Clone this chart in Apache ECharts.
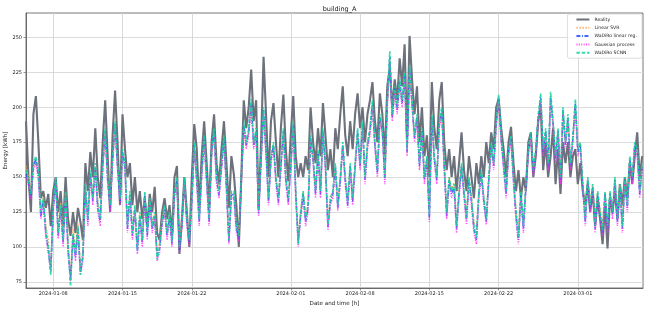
<!DOCTYPE html>
<html><head><meta charset="utf-8">
<script src="https://cdn.jsdelivr.net/npm/echarts@6/dist/echarts.min.js"></script>
<style>html,body{margin:0;padding:0;background:#fff}#c{width:648px;height:310px}</style>
</head><body><div id="c"></div>
<script>
// ---- data (hourly series sampled every 6 h, starting 2024-01-05 06:00) ----
const startTime = '2024-01-05T06:00:00Z';
const stepHours = 6;
const endTime = '2024-03-07T14:00:00Z';
const seriesNames = ['Reality','Linear SVR','WaDiRo linear reg.','Gaussian process','WaDiRo SCNN'];
const xTickDates = ['2024-01-08','2024-01-15','2024-01-22','2024-02-01','2024-02-08','2024-02-15','2024-02-22','2024-03-01'];
const yTicks = [75,100,125,150,175,200,225,250];

const reality = [
190,150,125,195,208,175,135,140,128,138,
115,140,150,125,140,115,150,120,108,125,
110,128,118,105,160,140,168,150,185,150,
135,175,205,165,125,180,212,175,130,195,
170,150,160,130,150,125,140,120,135,115,
138,125,143,110,105,125,135,120,130,108,
150,158,95,120,150,125,100,150,188,170,
128,165,190,160,128,175,195,160,145,170,
190,160,128,165,152,130,100,150,205,185,
200,227,190,205,127,175,236,195,150,190,
203,175,150,185,209,170,147,180,208,165,
150,160,150,165,155,200,175,160,185,165,
203,180,155,170,150,185,170,195,215,180,
165,190,170,195,210,185,200,175,195,205,
218,190,175,210,195,165,215,228,200,220,
205,235,215,245,178,251,220,195,215,175,
200,165,180,150,218,185,170,205,218,175,
155,170,150,165,140,160,182,155,140,165,
150,135,160,145,165,150,175,160,182,170,
200,206,185,170,150,175,186,160,140,155,
135,150,140,175,182,150,165,190,200,155,
175,150,165,185,145,170,138,175,160,175,
150,165,170,145,160,140,130,145,125,140,
115,135,120,102,130,99,135,125,140,120,
145,130,150,135,160,145,165,182,150,165];

const linearSVR = [
158,150,141,157,162,153,129,136,116,105,
86,128,147,114,132,109,138,105,80,113,
99,117,86,99,142,123,152,137,157,133,
124,157,181,152,133,162,186,158,138,167,
157,119,138,114,129,103,124,109,137,113,
133,118,124,97,104,119,128,113,123,108,
138,147,105,120,147,122,109,133,171,149,
124,152,176,149,124,166,181,149,141,158,
176,145,110,139,138,118,112,148,185,172,
181,201,173,182,130,162,195,168,138,163,
172,150,138,158,181,150,138,158,186,142,
108,127,139,123,131,176,163,141,167,142,
181,159,120,136,140,157,133,149,172,150,
135,158,137,158,181,159,186,152,172,182,
201,174,157,191,183,152,201,232,193,211,
198,216,203,220,172,226,202,180,193,162,
182,152,164,128,191,164,152,186,196,160,
129,150,141,146,119,141,158,141,125,149,
136,118,112,139,153,136,123,148,172,159,
187,205,178,160,142,167,178,151,128,112,
139,118,144,168,180,155,168,192,205,170,
182,160,205,188,165,183,152,196,175,192,
160,178,201,170,173,146,124,149,132,145,
119,139,127,116,139,118,139,127,148,123,
144,119,148,132,162,150,172,168,142,158];

const wadiroLinReg = [
152,146,136,158,163,151,122,133,110,98,
83,127,148,108,128,103,137,98,76,108,
93,113,82,93,143,118,153,133,158,128,
118,158,183,148,128,163,188,157,132,168,
158,113,137,108,127,97,122,103,138,108,
132,113,122,93,99,117,127,108,122,102,
138,148,98,116,148,118,103,132,173,148,
118,153,178,148,118,168,183,148,137,157,
178,142,104,137,138,113,106,148,188,173,
183,204,173,183,124,163,198,168,132,163,
173,148,132,158,183,148,132,158,188,138,
104,123,138,118,128,178,163,138,168,138,
183,158,114,132,138,158,128,148,173,148,
130,158,132,158,183,158,188,148,173,183,
203,173,153,193,183,148,203,236,193,213,
198,218,203,223,168,228,203,178,193,158,
183,148,163,120,193,163,148,188,198,158,
122,148,138,143,113,138,158,138,119,148,
133,113,105,138,153,133,118,148,173,158,
188,207,178,158,138,168,178,148,122,105,
138,113,143,168,181,153,168,193,207,168,
183,158,208,188,163,183,148,198,173,193,
158,178,203,168,173,143,118,148,128,143,
113,138,123,110,138,113,138,123,148,118,
143,113,148,128,163,148,173,168,138,158];

const gaussianProcess = [
150,144,134,155,160,148,120,130,107,96,
82,125,145,106,126,100,135,96,76,106,
90,110,80,90,140,115,150,130,155,125,
115,155,180,145,125,160,185,155,130,165,
155,110,135,105,125,95,120,100,135,105,
130,110,120,90,96,115,125,105,120,100,
135,145,96,113,145,115,100,130,170,145,
115,150,175,145,115,165,180,145,135,155,
175,140,102,135,135,110,104,145,185,170,
180,200,170,180,122,160,195,165,130,160,
170,145,130,155,180,145,130,155,185,135,
100,120,135,115,125,175,160,135,165,135,
180,155,112,130,135,155,126,145,170,145,
128,155,130,155,180,155,185,145,170,180,
200,170,150,190,180,145,200,234,190,210,
195,215,200,220,165,225,200,175,190,155,
180,145,160,118,190,160,145,185,195,155,
120,145,135,140,110,135,155,135,116,145,
130,110,102,135,150,130,116,145,170,155,
185,204,175,155,135,165,175,145,120,102,
135,110,140,165,178,150,165,190,204,165,
180,155,205,185,160,180,145,195,170,190,
155,175,200,165,170,140,115,145,125,140,
110,135,120,108,135,110,135,120,145,115,
140,110,145,125,160,145,170,165,135,155];

const wadiroSCNN = [
155,148,138,160,165,155,125,135,112,100,
80,130,150,110,130,105,140,100,72,110,
95,115,80,95,145,120,155,135,160,130,
120,160,185,150,130,165,190,160,135,170,
160,115,140,110,130,98,125,105,140,110,
135,115,125,91,100,120,130,110,125,104,
140,150,100,118,150,120,105,135,175,150,
120,155,180,150,120,170,185,150,140,160,
180,145,105,140,140,115,108,150,190,175,
185,206,175,185,126,165,200,170,135,165,
175,150,135,160,185,150,135,160,190,140,
102,125,140,120,130,180,165,140,170,140,
185,160,116,135,140,160,130,150,175,150,
132,160,135,160,185,160,190,150,175,185,
205,175,155,195,185,150,205,240,195,215,
200,220,205,225,170,230,205,180,195,160,
185,150,165,123,195,165,150,190,200,160,
125,150,140,145,115,140,160,140,121,150,
135,115,107,140,155,135,120,150,175,160,
190,209,180,160,140,170,180,150,125,107,
140,115,145,170,182,155,170,195,210,170,
185,160,211,190,165,185,150,200,175,195,
160,180,206,170,175,145,120,150,130,145,
115,140,125,112,140,115,140,125,150,120,
145,115,150,130,165,150,175,170,140,160];

// ---- chart ----
const t0 = Date.parse(startTime);
const step = stepHours * 3600 * 1000;
const toPairs = arr => arr.map((v, i) => [t0 + i * step, v]);
const xTicks = xTickDates.map(d => Date.parse(d + 'T00:00:00Z'));
const pad = n => (n < 10 ? '0' : '') + n;
const fmtDate = v => { const d = new Date(v); return d.getUTCFullYear() + '-' + pad(d.getUTCMonth() + 1) + '-' + pad(d.getUTCDate()); };

const FONT = 'DejaVu Sans';
const styles = [
  {color: '#6c717c', width: 2.1, type: 'solid', opacity: 1},
  {color: '#ffa04a', width: 1.5, type: [1.5, 1.5], opacity: 0.8},
  {color: '#1f4dff', width: 1.5, type: [4, 1.5, 1, 1.5], opacity: 0.85},
  {color: '#ff2df5', width: 1.5, type: [1, 1.4], opacity: 0.85},
  {color: '#14d49c', width: 1.6, type: [3.5, 1.8], opacity: 0.85}
];
const dataSets = [reality, linearSVR, wadiroLinReg, gaussianProcess, wadiroSCNN];

const chart = echarts.init(document.getElementById('c'), null, {renderer: 'canvas'});
chart.setOption({
  animation: false,
  backgroundColor: '#ffffff',
  title: {
    text: 'building_A', left: 334.5, top: 1, textAlign: 'center',
    textStyle: {fontFamily: FONT, fontSize: 6.5, fontWeight: 'normal', color: '#222'}
  },
  grid: {left: 26, right: 5, top: 13, bottom: 22, show: true, borderColor: '#555', borderWidth: 0.8,
         containLabel: false, outerBoundsMode: 'none'},
  legend: {
    orient: 'vertical', right: 6, top: 14,
    itemWidth: 13, itemHeight: 5, itemGap: 3.3,
    backgroundColor: 'rgba(255,255,255,0.85)', borderColor: '#d0d0d0', borderWidth: 0.7, borderRadius: 2,
    padding: [3, 5, 3, 8],
    itemStyle: {opacity: 0},
    textStyle: {fontFamily: FONT, fontSize: 4.6, lineHeight: 5, color: '#222'},
    data: seriesNames
  },
  xAxis: {
    type: 'value', min: t0, max: Date.parse(endTime),
    name: 'Date and time [h]', nameLocation: 'middle', nameGap: 13, nameMoveOverlap: false,
    nameTextStyle: {fontFamily: FONT, fontSize: 5.6, color: '#222'},
    axisLine: {show: true, onZero: false, lineStyle: {color: '#555', width: 0.8}},
    axisTick: {show: true, length: 2.5, customValues: xTicks, lineStyle: {color: '#555', width: 0.6}},
    axisLabel: {customValues: xTicks, formatter: fmtDate, fontFamily: FONT, fontSize: 5, color: '#222', margin: 3},
    splitLine: {show: true, lineStyle: {color: '#cfcfcf', width: 0.8}}
  },
  yAxis: {
    type: 'value', min: 70.7, max: 267.4,
    name: 'Energy [kWh]', nameLocation: 'middle', nameGap: 17, nameMoveOverlap: false,
    nameTextStyle: {fontFamily: FONT, fontSize: 5.6, color: '#222'},
    axisLine: {show: true, onZero: false, lineStyle: {color: '#555', width: 0.8}},
    axisTick: {show: true, length: 2.5, customValues: yTicks, lineStyle: {color: '#555', width: 0.6}},
    axisLabel: {customValues: yTicks, fontFamily: FONT, fontSize: 5, color: '#222', margin: 4},
    splitLine: {show: true, lineStyle: {color: '#dcdcdc', width: 1.2}}
  },
  series: dataSets.map((arr, k) => ({
    name: seriesNames[k], type: 'line', data: toPairs(arr),
    showSymbol: false, symbol: 'none', silent: true, z: 2 + k,
    lineStyle: {color: styles[k].color, width: styles[k].width, type: styles[k].type, opacity: styles[k].opacity},
    itemStyle: {color: styles[k].color}
  }))
});
</script>
</body></html>
